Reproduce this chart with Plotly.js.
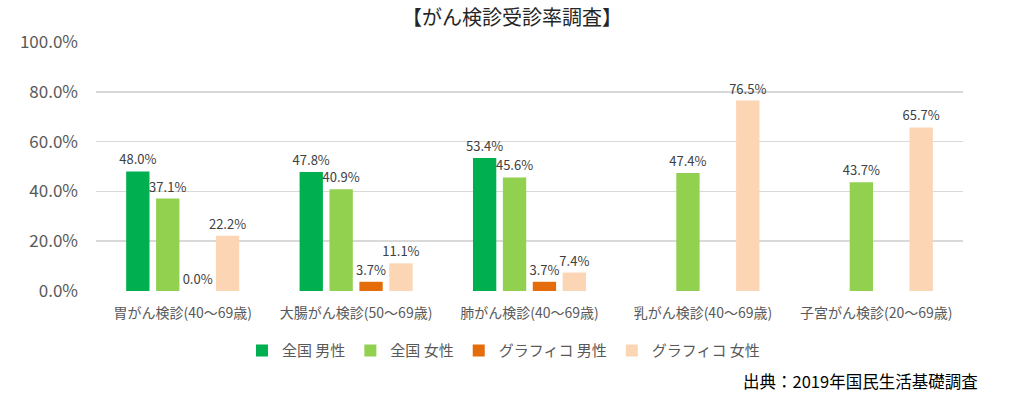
<!DOCTYPE html>
<html><head><meta charset="utf-8">
<script src="https://cdn.plot.ly/plotly-3.0.1.min.js"></script>
<style>html,body{margin:0;padding:0;background:#fff;}#chart{width:1024px;height:400px;}</style>
</head><body><div id="chart"></div>
<script>
const categories = ["胃がん検診(40～69歳)", "大腸がん検診(50～69歳)", "肺がん検診(40～69歳)", "乳がん検診(40～69歳)", "子宮がん検診(20～69歳)"];
const seriesNames = ["全国 男性", "全国 女性", "グラフィコ 男性", "グラフィコ 女性"];
const nationalMale = [48.0, 47.8, 53.4, null, null];
const nationalFemale = [37.1, 40.9, 45.6, 47.4, 43.7];
const graphicoMale = [0.0, 3.7, 3.7, null, null];
const graphicoFemale = [22.2, 11.1, 7.4, 76.5, 65.7];
const yTickVals = [0, 20, 40, 60, 80, 100];

const colors = ["#00B050", "#92D050", "#E46C0A", "#FCD5B5"];
const seriesData = [nationalMale, nationalFemale, graphicoMale, graphicoFemale];
const font = "'Noto Sans CJK JP', 'Noto Sans', sans-serif";

const traces = seriesData.map((d, i) => ({
  type: 'bar',
  name: seriesNames[i],
  x: categories,
  y: d,
  marker: {color: colors[i]},
  text: d.map(v => v === null ? '' : v.toFixed(1) + '%'),
  textposition: 'outside',
  constraintext: 'none',
  textangle: 0,
  textfont: {size: 13, color: '#404040', family: font},
  cliponaxis: false,
  hoverinfo: 'none'
}));

const layout = {
  width: 1024, height: 400,
  margin: {l: 96, r: 61, t: 42, b: 109},
  paper_bgcolor: '#fff', plot_bgcolor: '#fff',
  font: {family: font, color: '#595959'},
  title: {text: '【がん検診受診率調査】', font: {size: 20, color: '#262626', family: font}, x: 0.5, xanchor: 'center', xref: 'container', yref: 'container', y: 0.955, yanchor: 'middle'},
  barmode: 'group',
  bargap: 0.31,
  bargroupgap: 0.22,
  xaxis: {tickfont: {size: 14, color: '#595959'}, showline: false, ticks: '', ticklabelstandoff: 12, fixedrange: true},
  yaxis: {range: [0, 100], tickvals: yTickVals, ticktext: yTickVals.map(v => v.toFixed(1) + '%'),
    tickfont: {size: 17, color: '#595959'}, gridcolor: '#D9D9D9', gridwidth: 1.5, zeroline: false, showline: false, ticks: '', ticklen: 0, ticklabelstandoff: 17, automargin: false},
  legend: {orientation: 'h', x: 0.47, xanchor: 'center', y: -0.24, yanchor: 'middle', font: {size: 15, color: '#595959'}, itemwidth: 30, traceorder: 'normal'},
  annotations: [{text: '出典：2019年国民生活基礎調査', xref: 'paper', yref: 'paper', x: 1.02, xanchor: 'right', y: -0.36, yanchor: 'middle', showarrow: false, font: {size: 16.5, color: '#000', family: font}}]
};
Plotly.newPlot('chart', traces, layout, {displayModeBar: false, staticPlot: true});
</script></body></html>
